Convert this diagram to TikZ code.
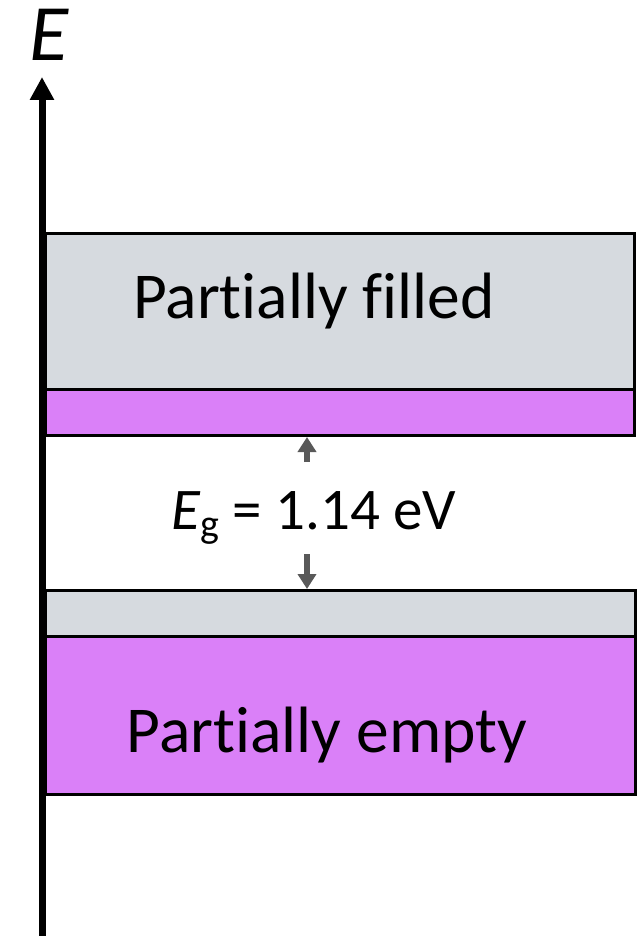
\documentclass[tikz,border=0pt]{standalone}
\usepackage{fontspec}
\setmainfont{Carlito}[Ligatures=NoCommon]
\usetikzlibrary{arrows.meta}
\definecolor{bandgray}{RGB}{214,218,223}
\definecolor{bandpurple}{RGB}{218,128,248}
\definecolor{arrgray}{RGB}{89,89,89}
\begin{document}
\begin{tikzpicture}[x=1pt,y=-1pt,
  band/.style={draw=black,line width=3pt,rectangle,inner sep=0pt,anchor=north west},
  gaparrow/.style={draw=arrgray,line width=6pt,-{Triangle[length=15pt,width=18pt]}},
  bandtext/.style={font=\fontsize{65.5}{70}\selectfont,anchor=base,inner sep=0pt}]
\useasboundingbox (0,0) rectangle (641,936);
% bands
\node[band,fill=bandgray,minimum width=588.5pt,minimum height=156.5pt] (ugray) at (44,231.5) {};
\node[band,fill=bandpurple,minimum width=588.5pt,minimum height=46pt] (upurple) at (44,388) {};
\node[band,fill=bandgray,minimum width=590pt,minimum height=46pt] (lgray) at (44,589) {};
\node[band,fill=bandpurple,minimum width=590pt,minimum height=158pt] (lpurple) at (44,635) {};
% texts
\node[bandtext] (tfill) at (314,318) {Partially filled};
\node[bandtext] (tempty) at (327,752) {Partially empty};
\node[font=\fontsize{59}{64}\selectfont,anchor=base west,inner sep=0pt] (eg) at (171,529) {\textit{E}\raisebox{-8pt}{\fontsize{40}{44}\selectfont g} = 1.14 eV};
% gap arrows
\coordinate (ua) at (307,462);
\coordinate (da) at (307,554);
\draw[gaparrow] (ua) -- (upurple.south -| ua);
\draw[gaparrow] (da) -- (lgray.north -| da);
% axis
\coordinate (axbot) at (42,940);
\coordinate (axtop) at (42,77);
\draw[line width=7pt,-{Triangle[length=23pt,width=23pt]}] (axbot) -- (axtop);
\node[font=\fontsize{80}{86}\selectfont\itshape,anchor=base west,inner sep=0pt] (elabel) at (29,61) {E};
\end{tikzpicture}
\end{document}
